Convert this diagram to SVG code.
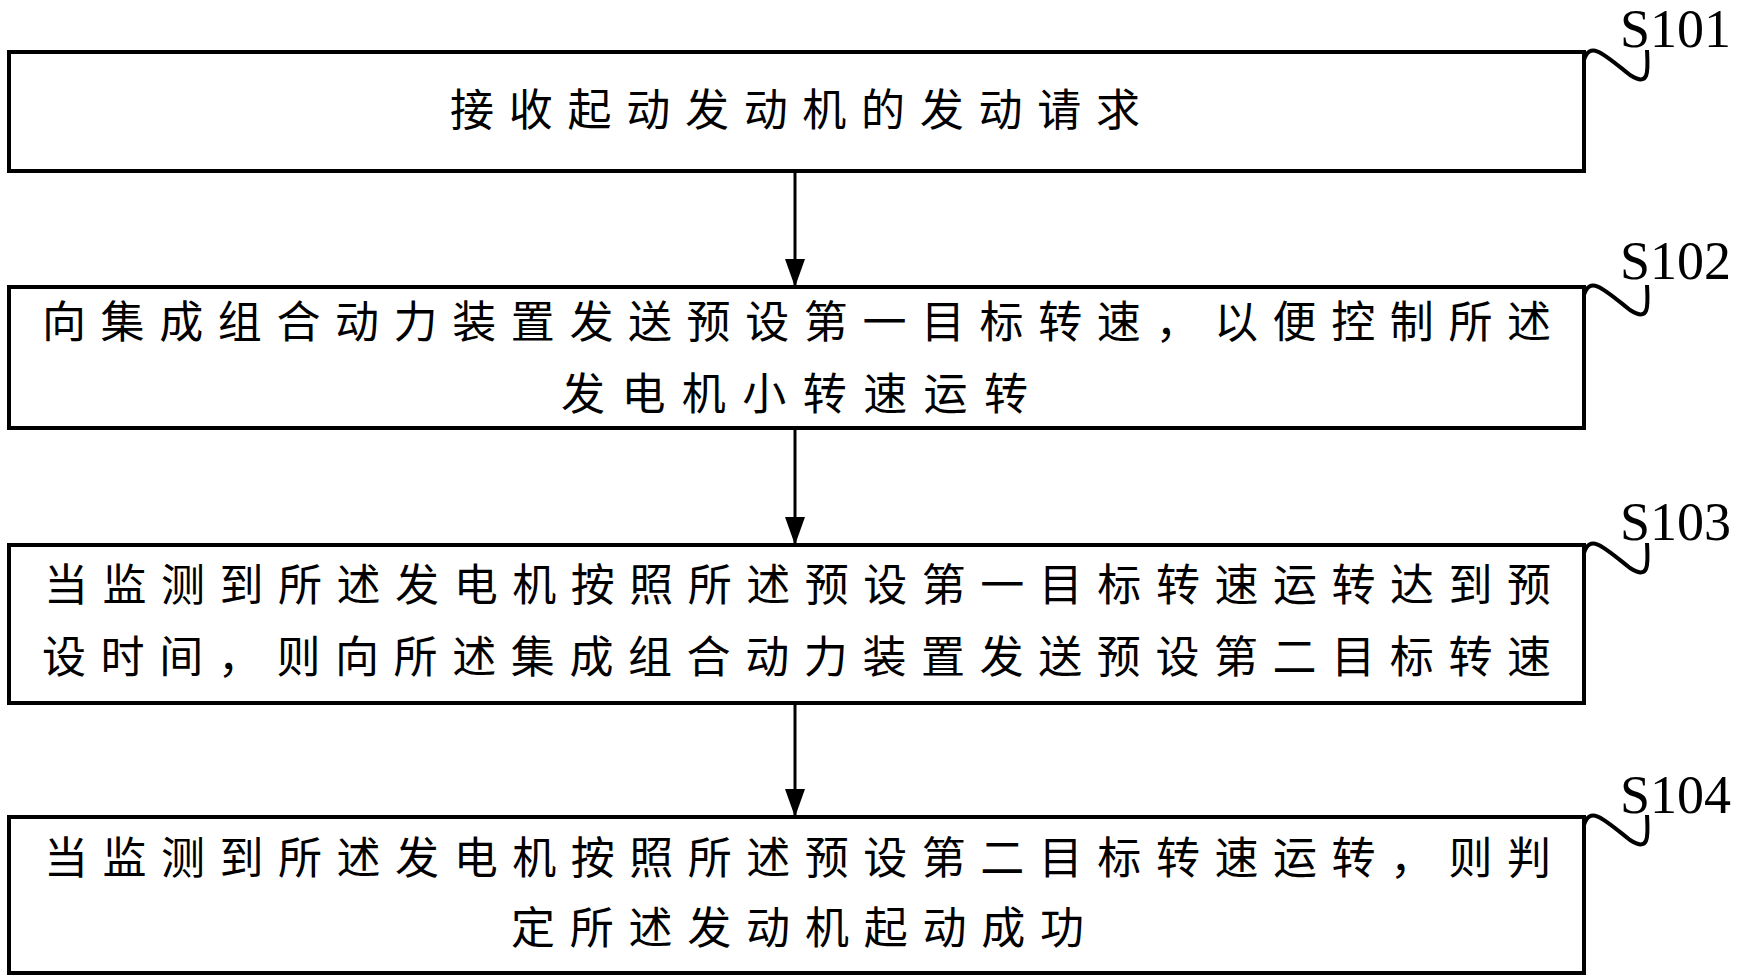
<svg xmlns="http://www.w3.org/2000/svg" width="1742" height="978" viewBox="0 0 1742 978">
<defs>
<style>
.box{fill:#fff;stroke:#000;stroke-width:4}
.t{font-family:"Liberation Serif","Noto Sans CJK SC",serif;font-size:44px;fill:#000}
.s{font-family:"Liberation Serif",serif;font-size:54px;fill:#000}
.sq{fill:none;stroke:#000;stroke-width:4}
.c{stroke:#000;stroke-width:3;fill:none}
</style>
<marker id="a" markerWidth="28" markerHeight="28" refX="26" refY="10" orient="auto" markerUnits="userSpaceOnUse"><path d="M0,0 L28,10 L0,20 z" fill="#000"/></marker>
</defs>
<rect width="1742" height="978" fill="#fff"/>
<g id="connectors">
<line class="c" x1="795" y1="171" x2="795" y2="285" marker-end="url(#a)"/>
<line class="c" x1="795" y1="428" x2="795" y2="543" marker-end="url(#a)"/>
<line class="c" x1="795" y1="703" x2="795" y2="815" marker-end="url(#a)"/>
</g>
<g id="S101">
<rect class="box" x="9" y="52" width="1575" height="119"/>
<text class="t" x="450" y="126" textLength="690" lengthAdjust="spacing">接收起动发动机的发动请求</text>
<path class="sq" d="M1584,60 C1590,40 1605,55 1630,75 C1650,88 1648,70 1647,50"/>
<text class="s" x="1620" y="47">S101</text>
</g>
<g id="S102">
<rect class="box" x="9" y="287" width="1575" height="141"/>
<text class="t" x="42" y="338" textLength="1509" lengthAdjust="spacing">向集成组合动力装置发送预设第一目标转速，以便控制所述</text>
<text class="t" x="561" y="410" textLength="467" lengthAdjust="spacing">发电机小转速运转</text>
<path class="sq" d="M1584,295 C1590,275 1605,290 1630,310 C1650,323 1648,305 1647,285"/>
<text class="s" x="1620" y="279">S102</text>
</g>
<g id="S103">
<rect class="box" x="9" y="545" width="1575" height="158"/>
<text class="t" x="44" y="601" textLength="1507" lengthAdjust="spacing">当监测到所述发电机按照所述预设第一目标转速运转达到预</text>
<text class="t" x="42" y="673" textLength="1509" lengthAdjust="spacing">设时间，则向所述集成组合动力装置发送预设第二目标转速</text>
<path class="sq" d="M1584,553 C1590,533 1605,548 1630,568 C1650,581 1648,563 1647,543"/>
<text class="s" x="1620" y="540">S103</text>
</g>
<g id="S104">
<rect class="box" x="9" y="817" width="1575" height="156"/>
<text class="t" x="44" y="874" textLength="1507" lengthAdjust="spacing">当监测到所述发电机按照所述预设第二目标转速运转，则判</text>
<text class="t" x="511" y="944" textLength="573" lengthAdjust="spacing">定所述发动机起动成功</text>
<path class="sq" d="M1584,825 C1590,805 1605,820 1630,840 C1650,853 1648,835 1647,815"/>
<text class="s" x="1620" y="813">S104</text>
</g>
</svg>
